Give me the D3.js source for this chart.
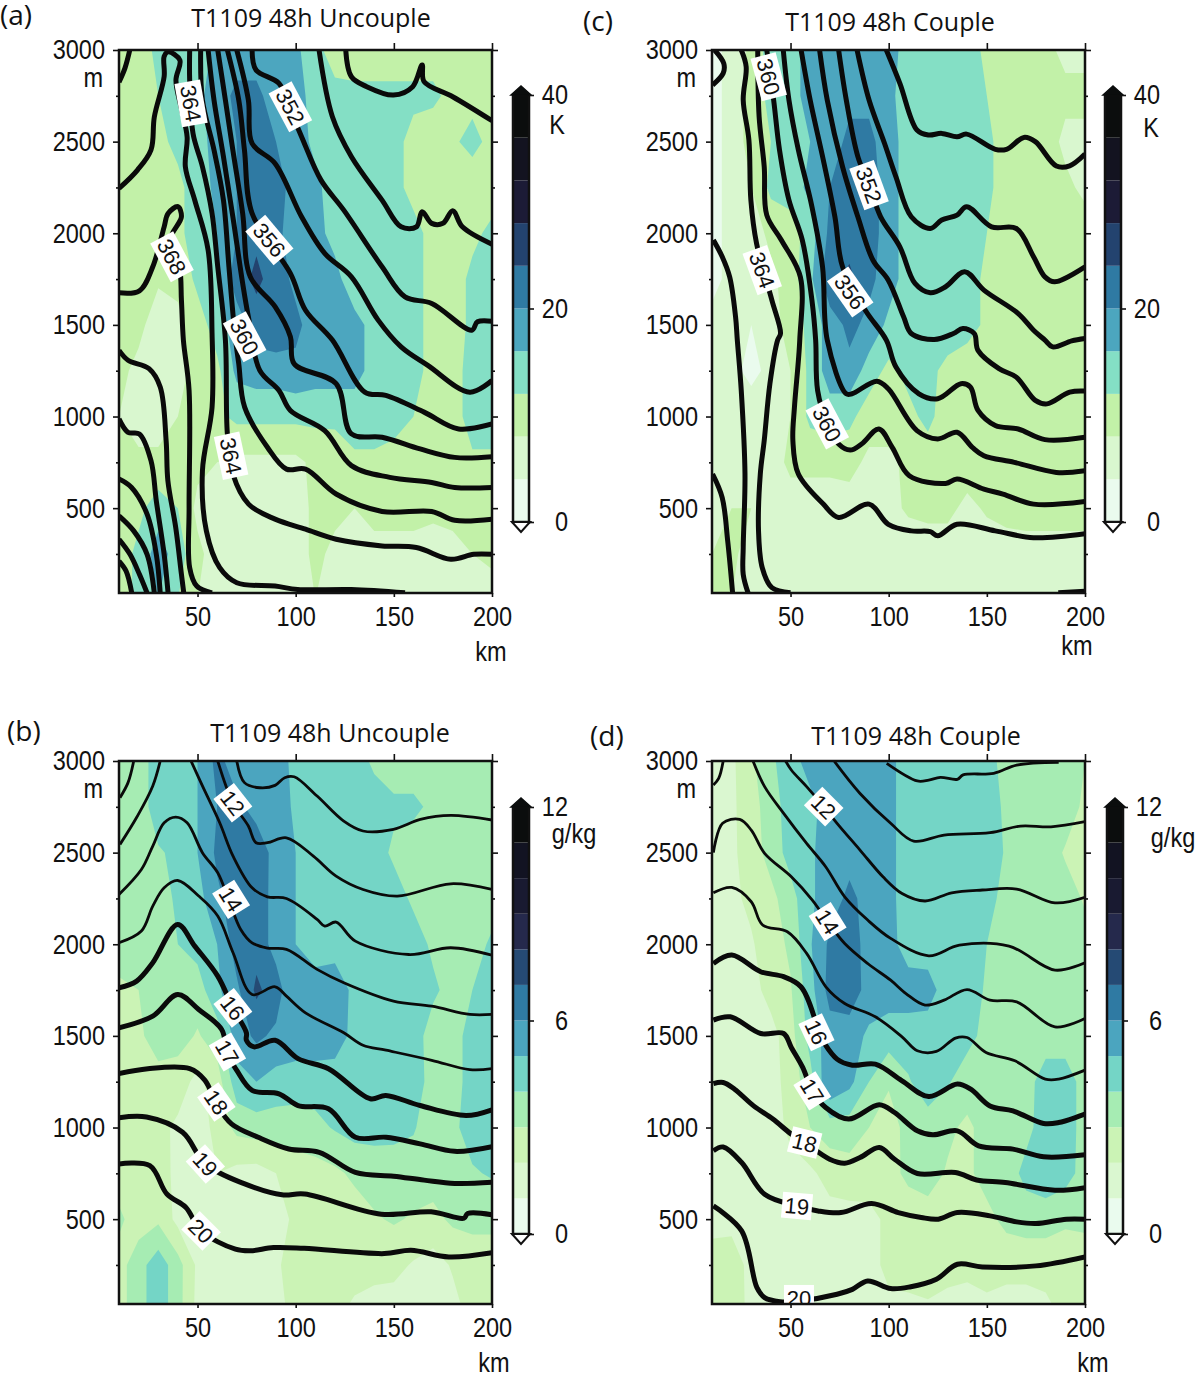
<!DOCTYPE html>
<html>
<head>
<meta charset="utf-8">
<script src="https://cdn.jsdelivr.net/npm/d3@7"></script>
<style>
  html, body { margin: 0; padding: 0; background: #fff; }
  svg { display: block; }
  text { fill: #111; }
  .tick-label { font-family: "Liberation Sans", sans-serif; font-size: 28px; }
  .title { font-family: "Open Sans", sans-serif; font-size: 25px; }
  .panel-tag { font-family: "Open Sans", sans-serif; font-size: 28px; }
  .contour-label { font-family: "Liberation Sans", sans-serif; font-size: 22px; }
</style>
</head>
<body>
<div id="chart"></div>
<script>
// grid of the shaded field: km across, m down
let kmGrid = d3.range(10, 201, 10)
let mGrid = d3.range(3000, -1, -250)

// shaded wind speed, K
let shadeA = [
  [10,10,13,13,14,17,18,18,18,17,13,10.5,10.5,10.5,10.5,10.5,10.5,10.5,10.5,10.5],
  [10,10,12,14,15,18,21,21,18,18,14,13,12.7,12.7,12.7,12.7,12.7,11,11,11],
  [10,10,11,13,15,17,20,22,20,18,15,14,14,14,13,11,10,11.5,13,11],
  [10,10,10,11,14,17,20,23,22,18,17,14,14,14,13,11,10,10,10,10],
  [9,10,10,11,14,16,20,23,21,18,17,15,13,13,13,13,11,10,11,13],
  [9,9,8.5,9,13,16,22,25,22,19,18,17,14,13,13,13,11,10,13,13],
  [9,9,6,7,10,14,18,22,23,21,18,18,17,15,13,13,11,10,13,13],
  [9,7,6,7,9,11,17,18,18,19,18,18,18,14,13,13,11,11,13,13],
  [8,6,6,8,9,11,13,13,13,13,13,13,13,13,13,12,11,11,13,13],
  [9,9,9,9,9,8,7,7,7,7,9,9.5,11.6,11.6,11,10,10,10,11.6,11.6],
  [9,11,14,12,7,6,6,6,6,6,9,9,8,10,10,10,9,9,9,9],
  [10,13,18,14,9,6,6,6,6,6,9,7,6,6,6,6,6,7,8,9],
  [10,13,16,12,8,6,6,6,6,6,8,6,6,6,6,6,6,6,6,6]
]
let shadeC = [
  [3,5,9,14,15,17,18,18,18,18,14,14,14,14,11,10,10,9,7,7],
  [3,5,10,13,15,17,18,19,19,17,14,14,14,14,12,10,10,10,9,9],
  [3,5,10,12,14,16,18,21,21,18,14,14,14,14,13,10,10,10,7,7],
  [3,5,8,13,14,17,20,22,22,18,14,14,14,14,13,10,10,10,9,7],
  [3,5,6,9,10,14,21,22,22,18,14,14,14,14,12,10,10,10,10,10],
  [3,5,6,7,10,15,23,25,21,18,14,14,14,14,11,10,10,10,10,10],
  [5,5,4,6,10,13,18,21,19,15,14,14,14,14,11,10,10,10,10,10],
  [5,5,3,5,8,13,18,19,14,11,13,13,11,9,9,9,9,9,9,9],
  [6,5,6,6,8,13,14,13,10,10,11,13,10,10,10,10,10,10,10,10],
  [6,6,6,6,9,9,9,9.5,7,7,9,10,10,10,10,10,10,10,10,10],
  [6,8,8,6,6,6,6,6,6,7,8.5,9,9,7,8.5,9.5,9,9,9,9],
  [8,9,6,6,6,6,6,6,6,6,6,6,6,6,6,6,7,7,7,7],
  [8,8,6,6,6,6,6,6,6,6,6,6,6,6,6,6,6,6,6,6]
]

// shaded humidity, g/kg
let shadeB = [
  [3.5,3.5,4.5,4.5,5,6.3,5.5,5.5,5.5,4.7,4.5,4.5,4.5,3.8,3.5,3.5,3.5,3.5,3.5,3],
  [3.5,3.5,4.5,4.5,5,6,6.2,5.7,5.6,4.8,4.5,4.5,4.5,4.5,4.2,4.2,3.8,3.5,3.5,3.5],
  [3.5,3.5,3.9,4.2,5,6.2,6.6,6.5,5.7,5,4.5,4.5,4.5,4.5,3.8,3.5,3.5,3.5,3.5,3.5],
  [3.5,3.5,3.5,4.2,4.6,5.8,6.5,6.6,5.6,5,4.5,4.5,4.5,4.5,4.5,3.8,3.5,3.5,3.5,3.5],
  [3.5,3.5,3.6,4,4.4,5,6.5,6.6,5.6,5,4.5,4.5,4.5,4.5,4.5,4.5,3.8,3.5,3.5,4.2],
  [2.8,3,3.5,3,3.5,4.8,5.8,7.2,6.5,5,5.5,5.7,4.7,4.5,4.5,4.5,4.2,3.6,4,4.5],
  [3,2.8,3.5,3.4,2.9,3.5,5.5,6.2,5.8,5.6,5.6,5.5,4.7,4.5,4.5,4.5,3.5,3.5,4.5,4.5],
  [2.5,2.6,2.6,2.5,1.7,2.5,4.6,5,4.6,4.5,4.5,4.5,4.5,4.5,4.5,4.5,3.6,3.6,4.4,4.5],
  [2.5,2.5,2.3,1.8,1.5,2.3,3.3,3.5,3.5,3.5,3.7,4.1,4.4,4.4,4.3,4.1,3.4,3.8,4.4,4.5],
  [2.5,2.5,2.5,1.7,1.5,2,1.7,1.6,2,2.5,2.6,2.8,3.2,3.4,3.5,3.5,3.5,3.6,3.9,4.1],
  [3.2,2.5,2.8,1.7,1.5,1.5,1.5,1.5,1.6,2.2,2.5,2.5,2.5,2.9,3.1,2.9,2.7,3.2,3.3,3.3],
  [2.6,3.6,4.6,3.4,1.8,1.5,1.5,1.6,1.9,2.3,2.4,2.4,2.4,2.4,2.3,1.9,1.6,2.1,2.4,2.4],
  [2.6,3.6,4.6,3.4,1.7,1.5,1.5,1.5,1.8,2.2,2.4,2.2,1.8,1.5,1.5,1.5,1.5,1.7,2.3,2.4]
]
let shadeD = [
  [1.7,1.8,2.8,3.8,4.6,5.4,5.5,5.5,5.5,5.3,4.5,4.5,4.5,4.5,4.2,3.8,3.6,3.5,3.5,3],
  [1.7,1.8,2.6,3.5,4.5,4.7,5.5,5.5,5.5,5.3,4.5,4.5,4.5,4.5,4.5,3.8,3.6,3.5,3.5,2.8],
  [1.7,1.8,2.5,3.4,4.4,4.8,5.6,5.7,5.5,5.3,4.5,4.5,4.5,4.5,4.5,3.9,3.6,3.5,2.9,2.8],
  [1.7,1.8,2.2,2.7,3.6,4.8,5.6,6.2,5.7,5.3,4.5,4.5,4.5,4.5,4.3,3.7,3.6,3.5,3.4,2.9],
  [1.6,1.7,1.9,2.5,3.2,4.9,6.2,6.5,5.6,5.4,4.5,4.5,4.5,4.4,4,3.6,3.6,3.5,3.4,3.3],
  [1.5,1.5,1.6,2.4,2.9,4.6,6.4,6.6,5.6,5.5,5.5,5.4,4.5,4.4,3.9,3.5,3.5,3.5,3.5,3.5],
  [1.5,1.5,1.5,1.6,2.6,4.4,5.5,5.5,4.8,4.5,4.5,4.5,4.5,4.3,3.7,3.5,3.5,3.5,3.5,3.5],
  [1.4,1.3,1.5,1.6,2.4,3.6,6,5.3,4,3.1,3.9,4.6,4.1,3.5,3.5,3.5,3.6,4.5,4.5,3.6],
  [1.6,1.3,1.5,1.6,2.2,3,3.5,3.5,3,2.6,3.3,3.5,3.2,2.8,3.4,3.5,3.7,4.5,4.5,3.6],
  [1.6,1.6,1.6,1.6,1.7,1.8,2.4,2.6,2.7,2.7,3.2,3.4,2.9,2.8,3.4,3.5,4.3,4.6,4.4,3.6],
  [1.7,1.7,1.6,1.6,1.6,1.6,1.6,1.6,1.6,2.3,2.5,2.6,2.9,2.6,2.7,3.3,3.5,3.5,3.2,3.3],
  [2.4,2.5,1.7,1.6,1.6,1.6,1.6,1.6,1.6,2.3,2.3,2.3,2.3,2.3,2.3,2.3,2.3,2.3,2.3,2.3],
  [2.5,2.4,1.8,1.5,1.5,1.5,1.5,1.5,1.5,1.7,1.8,1.9,1.7,1.5,1.8,1.6,1.6,1.8,2.2,2.3]
]

// contour lines, [km, m]
let linesA = [
  [[10,2825],[13,2900],[15.5,3000]],
  [[10,2245],[19.4,2345],[26.3,2455],[28,2635],[33,2855],[33,2965],[35,2990],[41,2945],[39,2835],[42,2670],[44.7,2525],[43.8,2363],[48.6,2180],[55.4,1908],[57.4,1453],[57.4,1050],[52.5,704],[54.5,376],[61.3,175],[70,93],[89.5,75],[101,56],[128.4,56],[155.7,38]],
  [[46,3000],[46,2836],[47.7,2545],[52.5,2363],[57.4,2108],[60.3,1817],[64.2,1417],[65.2,905],[68,686],[76,522],[89.5,440],[105,385],[120.6,330],[144,294],[161.5,285],[179,221],[190.7,248],[200,248]],
  [[51.6,3000],[52.5,2727],[58.4,2454],[63.2,2181],[66,1817],[69,1453],[71,1288],[74,1051],[85.6,832],[95.3,713],[105,713],[120.6,577],[144,482],[169.3,482],[181,434],[200,440]],
  [[55.4,3000],[58.4,2727],[63.2,2418],[68,2090],[73,1726],[75.9,1544],[81.7,1252],[91.5,1142],[97.3,1033],[114.8,923],[128.4,732],[147.9,668],[169.3,640],[181,613],[200,613]],
  [[60.3,3000],[64.2,2727],[68,2454],[73,2108],[76.9,1762],[89.5,1599],[97.3,1435],[99.2,1288],[120.6,1179],[128.4,905],[144,887],[163.4,823],[181,777],[200,781]],
  [[65.2,3000],[71,2727],[73.9,2454],[77.8,2108],[97.3,1781],[105,1580],[118.7,1417],[135.2,1133],[145.9,1115],[165.4,1024],[183,932],[200,960]],
  [[70,3000],[75.9,2727],[77.8,2490],[89.5,2381],[103,2090],[114.8,1890],[128.4,1762],[142,1526],[153.7,1380],[167.3,1279],[188.7,1133],[200,1197]],
  [[77.8,3000],[79.8,2891],[91.5,2818],[97.3,2672],[103,2527],[112.9,2290],[124.5,2126],[144,1817],[155.7,1653],[169.3,1617],[189.7,1471],[192.6,1517],[200,1520]],
  [[111.9,3000],[118.7,2636],[128.4,2418],[144,2181],[153.7,2035],[161.5,2035],[164.4,2117],[169.3,2054],[175,2054],[180,2123],[184.9,2035],[200,1940]],
  [[125.5,3000],[128.4,2854],[136.2,2800],[149.8,2754],[159.6,2800],[164.4,2918],[165.4,2827],[180,2745],[200,2614]],
  [[10,1361],[14.6,1307],[25.3,1261],[31,1161],[34,869],[34.9,650],[38.9,394],[41.8,139],[43,37]],
  [[10,987],[14.6,914],[20.4,905],[26.3,759],[29,540],[33,248],[35,37]],
  [[10,659],[16.4,613],[24.3,467],[29,248],[31,37]],
  [[10,458],[17.5,376],[24.3,248],[28,37]],
  [[10,330],[15.6,248],[20.4,139],[24.3,37]],
  [[10,211],[13.6,157],[16.5,37]],
  [[10,1675],[20.4,1686],[27.2,1817],[33,2035],[35,2108],[40,2145],[41.8,2090],[36,1963],[40.8,1817],[41.8,1635],[42.8,1417],[45.7,1142],[45.7,504],[46,175],[49.6,75],[57.4,38]]
]
let linesC = [
  [[11.3,3000],[16,2927],[15.7,2873],[10.3,2809]],
  [[10.7,1963],[15.2,1872],[19,1762],[22,1544],[22.9,1416],[24.9,1142],[26.8,686],[25.9,285],[25.9,139],[28.4,37]],
  [[10.3,686],[15.2,558],[18,321],[20.5,37]],
  [[24.9,3000],[27.4,2909],[25.9,2727],[28.8,2509],[29.8,2181],[32.7,1944],[40.5,1635],[44.9,1453],[43.4,1416],[39.5,1179],[36.6,869],[34.6,686],[33.7,376],[35.6,175],[40.5,66],[50,38]],
  [[33.3,3000],[34,2636],[36.6,2363],[37.9,2099],[45.3,1963],[55,1762],[54.7,1417],[52,1051],[51.2,869],[54,686],[66.7,522],[74.5,449],[90,522],[99.8,412],[111.5,376],[121.2,372],[125,349],[134.8,412],[154.3,376],[173.8,339],[200,361]],
  [[37.9,3000],[41.4,2727],[44.4,2454],[49.2,2181],[56,1963],[60.9,1635],[62.8,1417],[63.8,1142],[68.7,960],[74.5,850],[80.4,817],[86.2,850],[95,932],[101.8,832],[110.5,677],[129,635],[134.8,659],[148.5,604],[158.2,577],[173.8,522],[200,536]],
  [[46.3,3000],[49.2,2727],[54,2454],[60.9,2145],[66.3,1817],[68.7,1417],[78.4,1124],[81.3,1124],[94,1193],[99.8,1151],[114.4,923],[125,878],[134.8,914],[142.6,832],[148.5,786],[164,750],[185.4,695],[200,704]],
  [[55.4,3000],[60,2727],[66.7,2400],[72.6,2090],[76.5,1817],[88.1,1580],[98.8,1417],[103.7,1270],[115.4,1124],[125,1097],[136.8,1179],[141.6,1161],[145.5,1033],[154.3,951],[166,932],[179.6,874],[200,887]],
  [[64.8,3000],[68.7,2727],[76.5,2363],[84.3,2090],[92,1853],[99.8,1744],[107.6,1544],[111.5,1453],[123.2,1420],[133,1453],[137.8,1480],[143.6,1453],[145.5,1361],[156.2,1261],[165,1215],[174.7,1088],[180.6,1069],[192.2,1133],[200,1139]],
  [[74.5,3000],[78.4,2727],[84.3,2418],[90,2263],[95.9,2090],[105.7,1926],[113.4,1726],[121.2,1675],[129,1708],[138.7,1790],[148.5,1690],[166,1562],[173.8,1471],[179.6,1417],[183.5,1380],[193.2,1413],[200,1426]],
  [[83.9,3000],[90,2727],[97.9,2490],[103.7,2308],[111.5,2090],[121.2,2026],[127,2072],[134.8,2099],[139.7,2145],[152.4,2035],[165,2026],[173.8,1872],[179.6,1762],[184.5,1735],[200,1817]],
  [[98.8,3000],[105.7,2818],[114.4,2563],[120.2,2536],[127,2545],[134.8,2527],[139.7,2541],[154.3,2458],[160,2458],[168.9,2523],[174.7,2500],[185.4,2367],[192.2,2368],[200,2432]],
  [[186.4,38],[200,47]]
]
let linesB = [
  [[10.5,2800],[14.6,2882],[17.5,3000]],
  [[10.5,2545],[19.4,2700],[27.2,2864],[31,3000]],
  [[70,3000],[73.9,2882],[81.7,2854],[89.5,2867],[94.4,2909],[99.2,2914],[110.9,2809],[124.5,2672],[134.3,2618],[149.8,2627],[163.5,2681],[179,2703],[200,2678]],
  [[60.3,3000],[68,2772],[75.9,2645],[79.8,2554],[85.6,2554],[95.3,2581],[109,2481],[120.6,2372],[134.3,2299],[151.8,2263],[179,2330],[200,2299]],
  [[46.7,3000],[52.5,2864],[61.3,2663],[68.1,2481],[77.8,2308],[85.6,2259],[95.3,2250],[110.9,2136],[114.8,2099],[120.6,2121],[130.4,2017],[157.6,1944],[179,1981],[200,1940]],
  [[10,2272],[21.4,2408],[27.2,2536],[33,2663],[38.9,2694],[44.7,2663],[52.5,2500],[60.3,2390],[65.8,2245],[72,2081],[77.8,2008],[85.6,1979],[95.3,1972],[110.9,1863],[124.5,1790],[149.8,1690],[169.3,1662],[188.7,1617],[200,1617]],
  [[10,2008],[21.4,2072],[27.2,2208],[33,2308],[39.9,2348],[50.6,2263],[60.3,2154],[68.1,1954],[77.8,1726],[89.5,1768],[95.3,1717],[105,1626],[124.5,1517],[134.3,1449],[146,1422],[169.3,1367],[188.7,1316],[200,1321]],
  [[10,1762],[19,1799],[27.2,1899],[39.9,2108],[48.6,1990],[60.3,1826],[68,1653],[74.9,1517],[74.9,1476],[78.8,1440],[89.5,1476],[101.2,1376],[116.7,1321],[138,1157],[145.9,1175],[163.4,1120],[186.8,1066],[200,1097]],
  [[10,1544],[27.2,1608],[39.9,1726],[50.6,1644],[62.3,1535],[65.2,1403],[70,1312],[77.8,1203],[91.5,1184],[101.2,1120],[116.7,1102],[130.4,947],[146,947],[163.4,911],[181,870],[200,896]],
  [[10,1294],[24.7,1321],[46,1321],[53.8,1257],[59.6,1130],[67.3,1020],[80.9,947],[96.5,883],[112,865],[130.4,755],[149.8,734],[165.4,713],[181,695],[200,701]],
  [[10,1053],[24,1057],[42.4,974],[54,801],[73.4,695],[93,633],[104.6,637],[143.6,527],[169,540],[185.7,505],[187.6,531],[200,524]],
  [[10,801],[25.7,792],[34.4,637],[44.1,564],[51.8,436],[69.3,336],[77,327],[88.7,345],[104.3,341],[145.1,312],[158.7,330],[178,294],[200,317]]
]
let linesD = [
  [[10.7,2869],[13.4,2905],[15.7,3000]],
  [[99,2987],[114.6,2891],[120.4,2896],[126.3,2911],[135,2900],[137.9,2924],[153.5,2933],[165.2,2978],[186.6,2993]],
  [[72.2,3000],[85.4,2823],[101,2660],[112.7,2563],[128.2,2596],[151.6,2609],[167.2,2645],[182.7,2641],[200,2669]],
  [[47.5,3000],[50.4,2951],[58.2,2860],[66.9,2751],[73.7,2660],[85.4,2514],[97.1,2368],[106.8,2277],[118.5,2236],[132.1,2281],[147.7,2296],[165.2,2301],[184.7,2226],[200,2256]],
  [[30.9,3000],[36.8,2860],[46.5,2714],[58.2,2550],[67.9,2423],[77.6,2259],[89.3,2132],[101,2032],[120.4,1937],[136,1995],[161.3,1990],[184.7,1859],[200,1899]],
  [[10.7,2500],[15.4,2660],[24.1,2681],[30,2623],[36.8,2496],[50.4,2368],[61.1,2241],[68.9,2123],[77.6,2004],[89.3,1895],[101,1804],[108.8,1731],[118.5,1668],[128.2,1695],[139.9,1753],[151.6,1695],[165.2,1686],[184.7,1549],[200,1595]],
  [[10.7,2281],[20.1,2310],[30,2232],[35.8,2105],[48.4,2068],[58.2,1950],[68,1768],[77.6,1677],[93.2,1604],[106.8,1495],[114.6,1419],[124.3,1415],[134,1488],[139.9,1491],[149.6,1409],[164.3,1364],[179.8,1264],[186.6,1264],[200,1313]],
  [[10.7,1895],[20.1,1941],[34.8,1850],[46.5,1823],[55.3,1768],[62,1604],[63.2,1540],[73.7,1373],[81.5,1340],[93.2,1346],[106.8,1255],[120.4,1169],[135,1237],[141.8,1209],[151.6,1118],[163.3,1091],[178.9,1022],[186.6,1027],[200,1073]],
  [[10.7,1586],[19.3,1604],[34.8,1513],[46.5,1513],[50.4,1437],[56.2,1328],[61.1,1200],[67.9,1109],[79.6,1046],[95.2,1124],[103,1082],[114.6,982],[122.4,960],[135,982],[145.8,900],[163.3,882],[178.9,840],[200,851]],
  [[10.7,1240],[15.7,1246],[21.5,1209],[31.2,1118],[41,1046],[50.4,964],[57.2,918],[69.9,827],[77.6,805],[85.4,836],[95.2,891],[103,827],[114.6,749],[134,755],[144.8,714],[159.4,700],[184.7,658],[200,672]],
  [[10.7,873],[15.7,894],[25.1,809],[36.8,636],[53.3,572],[64,545],[75.7,536],[91.3,585],[104.9,536],[116.6,509],[125.3,500],[135,536],[151.6,518],[165.2,485],[175,476],[190.5,500],[200,500]],
  [[10.7,572],[25.1,436],[32.9,126],[36.8,72],[44.6,50],[54.3,53],[73.7,90],[81.5,117],[89.3,163],[101,121],[110.7,130],[124.3,172],[135,254],[147.7,239],[175,245],[200,294]]
]

// contour labels: text, km, m, rotation
let labelsA = [['364',46.7,2709,80],['352',97.3,2690,62],['356',86.6,1963,50],['368',37,1872,62],['360',74,1435,62],['364',67.1,786,78]]
let labelsC = [['360',38.9,2854,75],['364',35.6,1799,70],['352',90,2263,70],['356',80.4,1680,55],['360',68.7,960,62]]
let labelsB = [['12',68,2772,52],['14',67.1,2245,58],['16',68,1653,52],['17',65.2,1412,60],['18',59.6,1139,55],['19',54,801,48],['20',51.8,436,45]]
let labelsD = [['12',66.9,2751,45],['14',68.9,2123,58],['16',63.2,1520,65],['17',61.1,1200,58],['18',57.2,918,14],['19',53.3,572,5],['20',54.3,70,0]]

// colour bands
let bandsK = ['#eafbee','#d9f7cf','#c2f1a8','#84dfc5','#4ca6bf','#2f7aa3','#23436f','#1c1b36','#131320','#0b0d0d']
let bandsQ = ['#eafbee','#daf7d0','#cbf3b5','#a6ecb3','#74d5c6','#4ba5bf','#2f7aa3','#254a74','#25294c','#191a31','#121322','#0b0d0d']
let stepsK = d3.range(0, 40, 4)
let stepsQ = d3.range(0, 12, 1)

let xTicks = [50, 100, 150, 200]
let yTicks = [500, 1000, 1500, 2000, 2500, 3000]
let yMinor = [250, 750, 1250, 1750, 2250, 2750]

let width = 1200
let height = 1373
let plotWidth = 373
let plotHeight = 543

let xPositionScale = d3.scaleLinear().domain([10, 200]).range([0, plotWidth])
let yPositionScale = d3.scaleLinear().domain([37, 3000]).range([plotHeight, 0])

let svg = d3
  .select('#chart')
  .append('svg')
  .attr('width', width)
  .attr('height', height)

let panels = [
  { id: 'a', left: 119, top: 50, shade: shadeA, lines: linesA, labels: labelsA, bands: bandsK, steps: stepsK, max: 40,
    barLeft: 513, barTop: 95, barTicks: [0, 20, 40], unit: 'K', unitX: 557, unitY: 134,
    title: 'T1109 48h Uncouple', titleX: 311, titleY: 27, tag: '(a)', tagX: 0, tagY: 25, kmX: 491, kmY: 661, thick: () => 5 },
  { id: 'c', left: 712, top: 50, shade: shadeC, lines: linesC, labels: labelsC, bands: bandsK, steps: stepsK, max: 40,
    barLeft: 1105, barTop: 95, barTicks: [0, 20, 40], unit: 'K', unitX: 1151, unitY: 137,
    title: 'T1109 48h Couple', titleX: 890, titleY: 31, tag: '(c)', tagX: 583, tagY: 31, kmX: 1077, kmY: 655, thick: () => 5 },
  { id: 'b', left: 119, top: 761, shade: shadeB, lines: linesB, labels: labelsB, bands: bandsQ, steps: stepsQ, max: 12,
    barLeft: 513, barTop: 807, barTicks: [0, 6, 12], unit: 'g/kg', unitX: 574, unitY: 843,
    title: 'T1109 48h Uncouple', titleX: 330, titleY: 742, tag: '(b)', tagX: 7, tagY: 741, kmX: 494, kmY: 1372, thick: i => (i < 7 ? 2.8 : 5) },
  { id: 'd', left: 712, top: 761, shade: shadeD, lines: linesD, labels: labelsD, bands: bandsQ, steps: stepsQ, max: 12,
    barLeft: 1107, barTop: 807, barTicks: [0, 6, 12], unit: 'g/kg', unitX: 1173, unitY: 847,
    title: 'T1109 48h Couple', titleX: 916, titleY: 745, tag: '(d)', tagX: 590, tagY: 746, kmX: 1093, kmY: 1372, thick: i => (i < 7 ? 2.8 : 5) }
]

let line = d3
  .line()
  .x(d => xPositionScale(d[0]))
  .y(d => yPositionScale(d[1]))
  .curve(d3.curveCatmullRom.alpha(0.5))

// grid units -> screen, contours() puts cell i at i + 0.5
let gridToScreen = d3.geoTransform({
  point: function(c, r) {
    let km = kmGrid[0] + (c - 0.5) * (kmGrid[1] - kmGrid[0])
    let m = mGrid[0] + (r - 0.5) * (mGrid[1] - mGrid[0])
    this.stream.point(xPositionScale(km), yPositionScale(m))
  }
})
let gridPath = d3.geoPath(gridToScreen)

// the reference numbers are narrower than Liberation Sans
function squeeze(selection) {
  selection.each(function() {
    this.setAttribute('textLength', this.getComputedTextLength() * 0.84)
    this.setAttribute('lengthAdjust', 'spacingAndGlyphs')
  })
}

panels.forEach(p => {
  let g = svg
    .append('g')
    .attr('transform', 'translate(' + p.left + ',' + p.top + ')')

  let clipId = 'clip-' + p.id
  g.append('clipPath')
    .attr('id', clipId)
    .append('rect')
    .attr('width', plotWidth)
    .attr('height', plotHeight)

  let plot = g.append('g').attr('clip-path', 'url(#' + clipId + ')')

  // shading
  plot
    .append('rect')
    .attr('width', plotWidth)
    .attr('height', plotHeight)
    .attr('fill', p.bands[0])

  let contours = d3
    .contours()
    .size([kmGrid.length, mGrid.length])
    .thresholds(p.steps.slice(1))(p.shade.flat())

  plot
    .selectAll('.shade')
    .data(contours)
    .enter()
    .append('path')
    .attr('class', 'shade')
    .attr('d', gridPath)
    .attr('fill', (d, i) => p.bands[i + 1])

  // contour lines
  plot
    .selectAll('.isoline')
    .data(p.lines)
    .enter()
    .append('path')
    .attr('class', 'isoline')
    .attr('d', line)
    .attr('fill', 'none')
    .attr('stroke', '#0a0a0a')
    .attr('stroke-width', (d, i) => p.thick(i))
    .attr('stroke-linejoin', 'round')

  // labels sit in white boxes on top of the lines
  let labels = plot
    .selectAll('.label')
    .data(p.labels)
    .enter()
    .append('g')
    .attr('class', 'label')
    .attr('transform', d =>
      'translate(' + xPositionScale(d[1]) + ',' + yPositionScale(d[2]) + ') rotate(' + d[3] + ')'
    )
  labels
    .append('rect')
    .attr('x', d => (d[0].length > 2 ? -22 : -15))
    .attr('y', -13)
    .attr('width', d => (d[0].length > 2 ? 44 : 30))
    .attr('height', 26)
    .attr('fill', '#fff')
  labels
    .append('text')
    .attr('class', 'contour-label')
    .attr('text-anchor', 'middle')
    .attr('dy', 8)
    .text(d => d[0])

  // axes
  let axisLeft = d3.axisLeft(yPositionScale).tickValues(yTicks).tickSize(6).tickPadding(8).tickFormat(d3.format('d'))
  let gLeft = g.append('g').call(axisLeft)
  gLeft.selectAll('text').attr('class', 'tick-label')

  let tickOnly = (axis, values, size) => axis.tickValues(values).tickSize(size).tickFormat('')
  g.append('g').call(tickOnly(d3.axisLeft(yPositionScale), yMinor, 3))
  g.append('g')
    .attr('transform', 'translate(' + plotWidth + ',0)')
    .call(tickOnly(d3.axisRight(yPositionScale), yTicks, 6))
  g.append('g')
    .attr('transform', 'translate(' + plotWidth + ',0)')
    .call(tickOnly(d3.axisRight(yPositionScale), yMinor, 3))
  g.append('g').call(tickOnly(d3.axisTop(xPositionScale), xTicks, 7))

  let gBottom = g
    .append('g')
    .attr('transform', 'translate(0,' + plotHeight + ')')
    .call(d3.axisBottom(xPositionScale).tickValues(xTicks).tickSize(4).tickPadding(9).tickFormat(d3.format('d')))
  gBottom.selectAll('text').attr('class', 'tick-label')

  g.selectAll('.domain').remove()
  g.selectAll('.tick line').attr('stroke', '#111').attr('stroke-width', 1.6)

  g.append('rect')
    .attr('width', plotWidth)
    .attr('height', plotHeight)
    .attr('fill', 'none')
    .attr('stroke', '#111')
    .attr('stroke-width', 2.5)

  g.selectAll('.tick text').attr('fill', '#111')

  // free texts
  svg.append('text').attr('class', 'tick-label').attr('x', p.left - 16).attr('y', p.top + 37).attr('text-anchor', 'end').text('m')
  svg.append('text').attr('class', 'tick-label').attr('x', p.kmX).attr('y', p.kmY).attr('text-anchor', 'middle').text('km')
  svg.append('text').attr('class', 'title').attr('x', p.titleX).attr('y', p.titleY).attr('text-anchor', 'middle').text(p.title)
  svg.append('text').attr('class', 'panel-tag').attr('x', p.tagX).attr('y', p.tagY).text(p.tag)

  // colour bar
  let barHeight = 427
  let barWidth = 16
  let barScale = d3.scaleLinear().domain([0, p.max]).range([barHeight, 0])
  let bar = svg
    .append('g')
    .attr('transform', 'translate(' + p.barLeft + ',' + p.barTop + ')')
  let step = p.steps[1] - p.steps[0]

  bar
    .selectAll('.band')
    .data(p.steps)
    .enter()
    .append('rect')
    .attr('class', 'band')
    .attr('y', d => barScale(d + step))
    .attr('width', barWidth)
    .attr('height', d => barScale(d) - barScale(d + step))
    .attr('fill', (d, i) => p.bands[i])

  bar
    .append('rect')
    .attr('width', barWidth)
    .attr('height', barHeight)
    .attr('fill', 'none')
    .attr('stroke', '#111')
    .attr('stroke-width', 2.5)

  bar
    .append('path')
    .attr('d', d3.line()([[-2, 0], [barWidth / 2, -9], [barWidth + 2, 0]]) + 'Z')
    .attr('fill', '#0b0d0d')
    .attr('stroke', '#0b0d0d')
    .attr('stroke-width', 1.5)
  bar
    .append('path')
    .attr('d', d3.line()([[-1, barHeight], [barWidth / 2, barHeight + 10], [barWidth + 1, barHeight]]) + 'Z')
    .attr('fill', '#fff')
    .attr('stroke', '#111')
    .attr('stroke-width', 2)

  let barAxis = bar
    .append('g')
    .attr('transform', 'translate(' + barWidth + ',0)')
    .call(d3.axisRight(barScale).tickValues(p.barTicks).tickSize(5).tickFormat(d3.format('d')))
  barAxis.select('.domain').remove()
  barAxis.selectAll('.tick line').attr('stroke', '#111').attr('stroke-width', 1.6)
  barAxis
    .selectAll('text')
    .attr('class', 'tick-label')
    .attr('fill', '#111')
    .attr('text-anchor', 'end')
    .attr('x', 39)

  svg.append('text').attr('class', 'tick-label').attr('x', p.unitX).attr('y', p.unitY).attr('text-anchor', 'middle').text(p.unit)
})

// axis() sets font attributes on its group, drop them so the css applies
svg.selectAll('g[font-size]').attr('font-size', null).attr('font-family', null)

svg.selectAll('.tick-label').call(squeeze)
</script>
</body>
</html>
